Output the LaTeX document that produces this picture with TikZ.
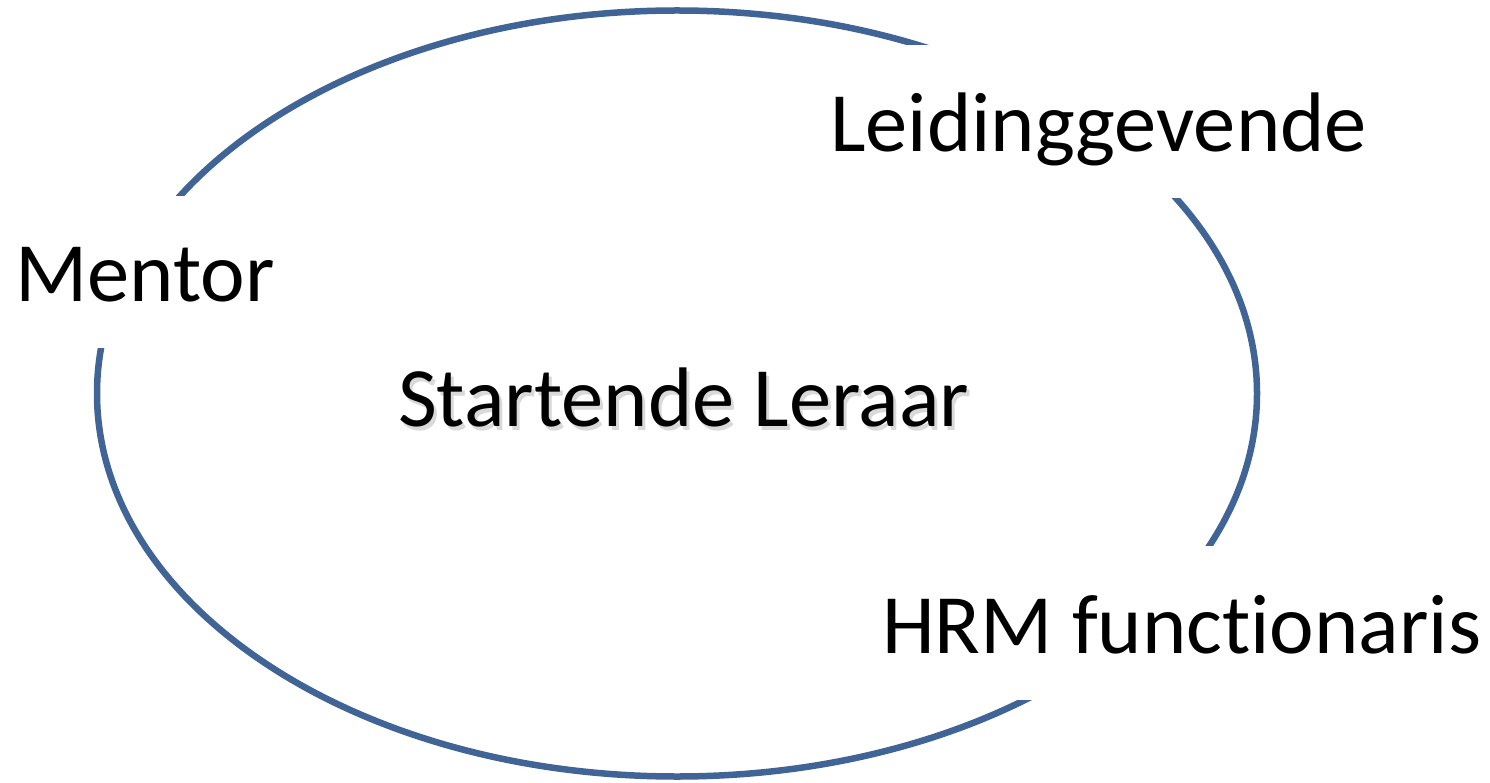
\documentclass[tikz,border=0pt]{standalone}
\usepackage{fontspec}
\setmainfont[Ligatures={NoCommon}]{Carlito}
\definecolor{ringblue}{RGB}{64,100,150}
\tikzset{
  ring/.style={draw=ringblue, line width=6.5pt},
  lbl/.style={font=\fontsize{84.5}{90}\selectfont, fill=white, inner xsep=0pt, inner ysep=0pt, anchor=base west},
  ctr/.style={font=\fontsize{84.5}{90}\selectfont, inner sep=0pt, anchor=base west}
}
\begin{document}
\begin{tikzpicture}[x=1pt,y=-1pt]
\useasboundingbox (0,0) rectangle (1490,783);
\draw[ring] (677,393.5) ellipse [x radius=580, y radius=383];
\node[lbl, text height=106pt, text depth=46pt] (mentor) at (15,302) {Mentor};
\node[lbl, text height=107pt, text depth=46pt] (leid) at (830,152) {Leidinggevende};
\node[lbl, text height=107pt, text depth=47pt] (hrm) at (882,653) {HRM functionaris};
\node[ctr, text=black!25, opacity=0.6] (shadow) at (401,430) {Startende Leraar};
\node[ctr] (start) at (398,426) {Startende Leraar};
\end{tikzpicture}
\end{document}
